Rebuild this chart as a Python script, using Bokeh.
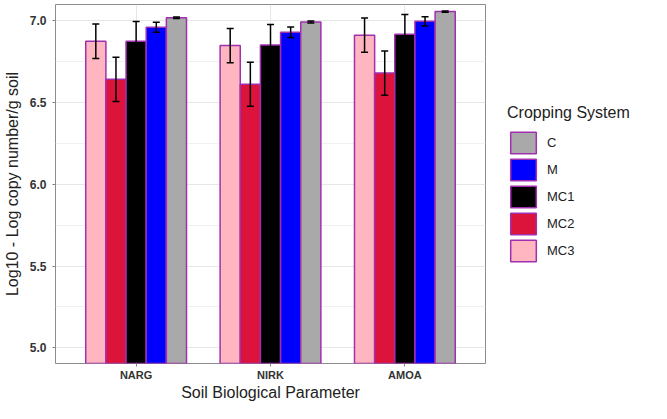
from bokeh.plotting import figure
from bokeh.models import (ColumnDataSource, Range1d, FixedTicker, PrintfTickFormatter,
                          Whisker, TeeHead, Legend, LegendItem)
from bokeh.embed import file_html
from bokeh.resources import INLINE

# ---- data ----
parameters = ["NARG", "NIRK", "AMOA"]
systems = ["MC3", "MC2", "MC1", "M", "C"]
legend_order = ["C", "M", "MC1", "MC2", "MC3"]
mean_MC3 = [6.873, 6.846, 6.910]
mean_MC2 = [6.640, 6.610, 6.678]
mean_MC1 = [6.873, 6.850, 6.916]
mean_M = [6.958, 6.928, 6.994]
mean_C = [7.016, 6.990, 7.054]
err_MC3 = [0.105, 0.105, 0.105]
err_MC2 = [0.135, 0.135, 0.135]
err_MC1 = [0.120, 0.125, 0.120]
err_M = [0.030, 0.032, 0.028]
err_C = [0.004, 0.006, 0.004]
y_ticks = [5.0, 5.5, 6.0, 6.5, 7.0]
y_minor = [5.25, 5.75, 6.25, 6.75]

means = {"MC3": mean_MC3, "MC2": mean_MC2, "MC1": mean_MC1, "M": mean_M, "C": mean_C}
errs = {"MC3": err_MC3, "MC2": err_MC2, "MC1": err_MC1, "M": err_M, "C": err_C}
colors = {"MC3": "#FFB6C1", "MC2": "#DC143C", "MC1": "#000000", "M": "#0000FF", "C": "#A9A9A9"}

FONT = "Liberation Sans"
OUTLINE = "#A030B0"
BAR_W = 0.15
offsets = {s: (i - 2) * BAR_W for i, s in enumerate(systems)}

p = figure(frame_width=430, frame_height=359, output_backend="svg", toolbar_location=None,
           x_range=Range1d(0.4, 3.6), y_range=Range1d(4.905, 7.097),
           min_border_left=55, min_border_top=4, min_border_right=0, min_border_bottom=0)
p.background_fill_color = "white"
p.outline_line_color = "#8c8c8c"
p.outline_line_width = 1

renderers = {}
for s in systems:
    xs = [i + 1 + offsets[s] for i in range(len(parameters))]
    src = ColumnDataSource(dict(x=xs, top=means[s],
                                upper=[m + e for m, e in zip(means[s], errs[s])],
                                lower=[m - e for m, e in zip(means[s], errs[s])]))
    r = p.vbar(x="x", top="top", bottom=0, width=BAR_W, source=src,
               fill_color=colors[s], line_color=OUTLINE, line_width=1.5)
    renderers[s] = r
    w = Whisker(base="x", upper="upper", lower="lower", source=src, level="overlay",
                line_color="black", line_width=1.5,
                upper_head=TeeHead(size=7, line_color="black", line_width=1.5),
                lower_head=TeeHead(size=7, line_color="black", line_width=1.5))
    p.add_layout(w)

# axes
p.xaxis.ticker = FixedTicker(ticks=[1, 2, 3])
p.xaxis.major_label_overrides = {1: parameters[0], 2: parameters[1], 3: parameters[2]}
p.yaxis.ticker = FixedTicker(ticks=y_ticks, minor_ticks=y_minor)
p.yaxis.formatter = PrintfTickFormatter(format="%.1f")
for ax in (p.xaxis, p.yaxis):
    ax.axis_line_color = None
    ax.major_tick_line_color = "#7f7f7f"
    ax.major_tick_in = 0
    ax.major_tick_out = 3
    ax.minor_tick_line_color = None
    ax.major_label_text_font = FONT
    ax.major_label_text_font_style = "bold"
    ax.major_label_text_color = "#333333"
    ax.axis_label_text_font = FONT
    ax.axis_label_text_font_style = "normal"
    ax.axis_label_text_color = "#222222"
p.xaxis.major_label_text_font_size = "11px"
p.yaxis.major_label_text_font_size = "12px"
p.xaxis.axis_label = "Soil Biological Parameter"
p.yaxis.axis_label = "Log10 - Log copy number/g soil"
p.xaxis.axis_label_text_font_size = "16px"
p.yaxis.axis_label_text_font_size = "16px"
p.xaxis.major_label_standoff = 2
p.yaxis.major_label_standoff = 5
p.xaxis.axis_label_standoff = 0
p.yaxis.axis_label_standoff = 6

# grid
p.xgrid.grid_line_color = "#e6e6e6"
p.ygrid.grid_line_color = "#e6e6e6"
p.ygrid.minor_grid_line_color = "#f0f0f0"
p.xgrid.grid_line_width = 1
p.ygrid.grid_line_width = 1

legend = Legend(items=[LegendItem(label=s, renderers=[renderers[s]]) for s in legend_order],
                location=(22, 99), title="Cropping System",
                title_text_font=FONT, title_text_font_size="16px", title_text_color="#222222",
                title_text_font_style="normal", title_standoff=7,
                label_text_font=FONT, label_text_font_size="13px", label_text_color="#222222",
                glyph_width=32, glyph_height=27, label_height=27, spacing=0,
                label_standoff=8, padding=0, margin=0,
                border_line_color=None, background_fill_alpha=0)
p.add_layout(legend, "right")

open("out.html", "w").write(file_html(p, INLINE))
